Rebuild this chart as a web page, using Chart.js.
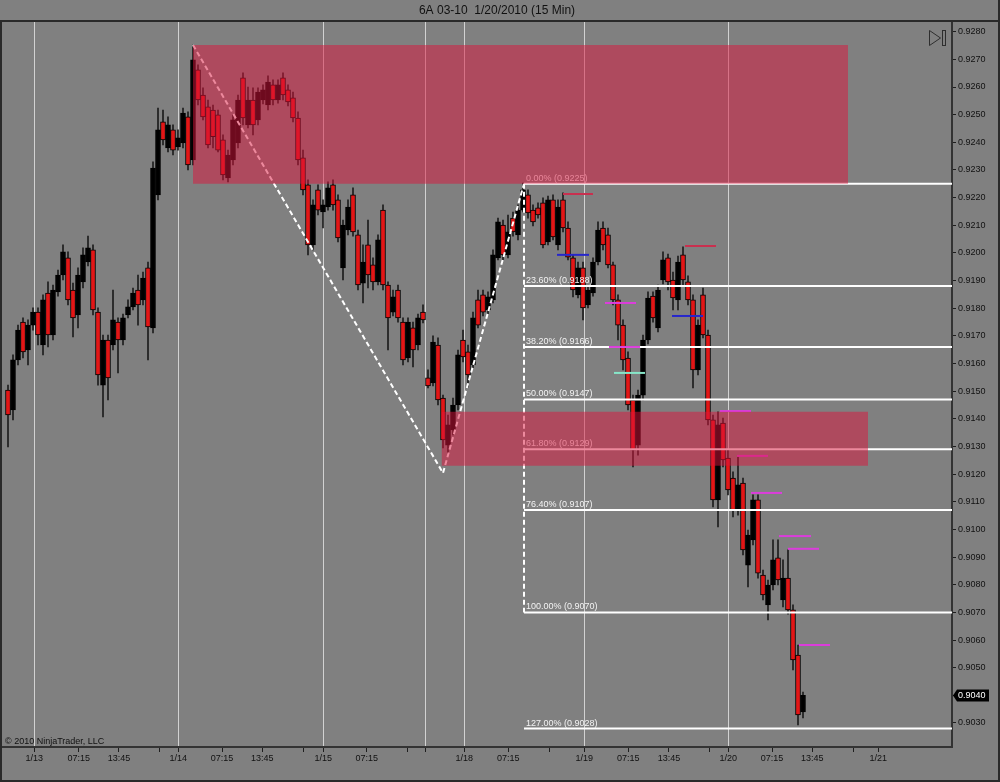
<!DOCTYPE html>
<html><head><meta charset="utf-8">
<script src="https://cdn.jsdelivr.net/npm/chart.js@4.4.1/dist/chart.umd.min.js"></script>
<style>html,body{margin:0;padding:0;background:#808080;overflow:hidden}canvas{display:block}</style>
</head><body>
<canvas id="c" width="1000" height="782"></canvas>
<script>
// ---- DATA ----
const chartTitle = '6A 03-10  1/20/2010 (15 Min)';
const candleOpen = [
0.91504,0.91432,0.91613,0.91750,0.91649,0.91739,0.91786,0.91667,0.91855,0.91703,
0.91859,0.91920,0.91982,0.91866,0.91776,0.91895,0.91967,0.92011,0.91786,0.91522,
0.91685,0.91667,0.91750,0.91685,0.91776,0.91805,0.91866,0.91830,0.91946,0.91729,
0.92210,0.92474,0.92380,0.92445,0.92383,0.92398,0.92492,0.92336,0.92662,0.92571,
0.92528,0.92517,0.92499,0.92409,0.92271,0.92336,0.92398,0.92633,0.92463,0.92553,
0.92481,0.92553,0.92535,0.92608,0.92553,0.92633,0.92590,0.92561,0.92488,0.92344,
0.92246,0.92029,0.92228,0.92148,0.92166,0.92246,0.92192,0.91946,0.92083,0.92210,
0.92065,0.91891,0.92029,0.91957,0.91895,0.92155,0.91884,0.91786,0.91866,0.91750,
0.91620,0.91729,0.91667,0.91786,0.91548,0.91530,0.91667,0.91475,0.91305,0.91360,
0.91450,0.91685,0.91642,0.91595,0.91830,0.91848,0.91794,0.91830,0.91982,0.92101,
0.91993,0.92126,0.92065,0.92155,0.92210,0.92155,0.92163,0.92181,0.92040,0.92192,
0.92029,0.92192,0.92090,0.91982,0.91848,0.91946,0.91812,0.91855,0.91967,0.92090,
0.92065,0.91957,0.91830,0.91739,0.91620,0.91468,0.91305,0.91486,0.91685,0.91844,
0.91729,0.91902,0.91982,0.91902,0.91830,0.91993,0.91895,0.91830,0.91577,0.91848,
0.91703,0.91396,0.91107,0.91385,0.91258,0.91186,0.91070,0.91168,0.90871,0.90962,
0.91107,0.90835,0.90727,0.90799,0.90897,0.90745,0.90824,0.90709,0.90546,0.90340];
const candleHigh = [
0.91522,0.91631,0.91739,0.91765,0.91758,0.91801,0.91801,0.91848,0.91895,0.91884,
0.91938,0.92029,0.92004,0.91891,0.91946,0.92018,0.92061,0.92029,0.91801,0.91703,
0.91703,0.91866,0.91765,0.91779,0.91830,0.91873,0.91920,0.91931,0.91967,0.92329,
0.92524,0.92517,0.92492,0.92463,0.92445,0.92524,0.92510,0.92752,0.92680,0.92597,
0.92553,0.92535,0.92517,0.92427,0.92372,0.92499,0.92571,0.92651,0.92600,0.92597,
0.92597,0.92608,0.92640,0.92626,0.92626,0.92651,0.92608,0.92582,0.92510,0.92372,
0.92264,0.92192,0.92246,0.92192,0.92257,0.92264,0.92210,0.92119,0.92192,0.92235,
0.92083,0.92029,0.92119,0.91982,0.92065,0.92174,0.91895,0.91866,0.91884,0.91765,
0.91765,0.91750,0.91779,0.91812,0.91577,0.91700,0.91693,0.91486,0.91414,0.91475,
0.91649,0.91721,0.91667,0.91786,0.91866,0.91866,0.91859,0.92011,0.92126,0.92119,
0.92137,0.92148,0.92174,0.92253,0.92228,0.92174,0.92181,0.92199,0.92206,0.92210,
0.92192,0.92217,0.92112,0.91993,0.91967,0.91967,0.91880,0.91982,0.92112,0.92112,
0.92090,0.91967,0.91848,0.91758,0.91642,0.91486,0.91504,0.91703,0.91859,0.91859,
0.91884,0.92004,0.91996,0.91931,0.91989,0.92022,0.91917,0.91848,0.91758,0.91873,
0.91721,0.91414,0.91425,0.91403,0.91287,0.91208,0.91262,0.91186,0.90998,0.91125,
0.91125,0.90853,0.90817,0.90962,0.90962,0.90890,0.90926,0.90727,0.90582,0.90412];
const candleLow = [
0.91298,0.91396,0.91595,0.91620,0.91595,0.91721,0.91667,0.91631,0.91660,0.91685,
0.91844,0.91902,0.91812,0.91696,0.91729,0.91873,0.91953,0.91776,0.91522,0.91407,
0.91468,0.91649,0.91566,0.91667,0.91765,0.91794,0.91739,0.91812,0.91613,0.91711,
0.92192,0.92391,0.92365,0.92354,0.92372,0.92380,0.92300,0.92318,0.92535,0.92481,
0.92380,0.92380,0.92365,0.92264,0.92257,0.92318,0.92380,0.92463,0.92452,0.92427,
0.92463,0.92539,0.92517,0.92535,0.92542,0.92553,0.92532,0.92474,0.92318,0.92210,
0.91993,0.92011,0.92137,0.92090,0.92155,0.92155,0.92040,0.91902,0.92065,0.92061,
0.91866,0.91819,0.91873,0.91866,0.91884,0.91866,0.91649,0.91772,0.91750,0.91595,
0.91606,0.91588,0.91649,0.91747,0.91512,0.91519,0.91450,0.91295,0.91276,0.91342,
0.91432,0.91606,0.91515,0.91584,0.91729,0.91772,0.91779,0.91819,0.91975,0.91975,
0.91982,0.92061,0.92047,0.92148,0.92126,0.92098,0.92126,0.92018,0.92029,0.92047,
0.92011,0.92076,0.91975,0.91841,0.91837,0.91758,0.91801,0.91844,0.91957,0.92011,
0.91946,0.91812,0.91685,0.91577,0.91432,0.91226,0.91269,0.91468,0.91671,0.91750,
0.91714,0.91888,0.91866,0.91794,0.91794,0.91884,0.91812,0.91512,0.91559,0.91693,
0.91378,0.91081,0.91009,0.91226,0.91125,0.91045,0.91052,0.90908,0.90792,0.90944,
0.90824,0.90745,0.90673,0.90781,0.90799,0.90720,0.90694,0.90492,0.90293,0.90318];
const candleClose = [
0.91414,0.91613,0.91721,0.91642,0.91739,0.91786,0.91703,0.91830,0.91703,0.91866,
0.91920,0.92004,0.91830,0.91765,0.91920,0.91993,0.92018,0.91794,0.91559,0.91685,
0.91548,0.91758,0.91685,0.91765,0.91805,0.91855,0.91812,0.91909,0.91732,0.92307,
0.92445,0.92409,0.92463,0.92372,0.92416,0.92506,0.92318,0.92698,0.92553,0.92492,
0.92391,0.92420,0.92372,0.92282,0.92354,0.92481,0.92553,0.92488,0.92553,0.92463,
0.92582,0.92590,0.92618,0.92553,0.92608,0.92571,0.92546,0.92488,0.92336,0.92228,
0.92029,0.92174,0.92155,0.92174,0.92235,0.92174,0.92054,0.92101,0.92166,0.92076,
0.91884,0.91967,0.91920,0.91895,0.92047,0.91884,0.91765,0.91841,0.91765,0.91613,
0.91750,0.91649,0.91765,0.91758,0.91519,0.91678,0.91468,0.91324,0.91378,0.91450,
0.91631,0.91624,0.91559,0.91765,0.91739,0.91786,0.91841,0.91993,0.92112,0.91993,
0.92076,0.92076,0.92155,0.92228,0.92145,0.92112,0.92137,0.92029,0.92192,0.92058,
0.92166,0.92090,0.91985,0.91866,0.91946,0.91801,0.91866,0.91967,0.92083,0.92029,
0.91957,0.91830,0.91739,0.91613,0.91450,0.91287,0.91486,0.91685,0.91837,0.91765,
0.91866,0.91975,0.91895,0.91837,0.91967,0.91902,0.91830,0.91577,0.91739,0.91703,
0.91396,0.91107,0.91378,0.91251,0.91143,0.91070,0.91161,0.90926,0.90980,0.91107,
0.90842,0.90763,0.90799,0.90890,0.90817,0.90824,0.90709,0.90528,0.90329,0.90400];

// x axis (bar-slot units) tick positions and labels
const xTickPos = [5.26,14.14,22.2,30.26,34.06,42.8,50.86,59.06,63.06,71.74,79.86,83.4,91.26,100.06,108.2,115.26,124.06,132.2,140.26,144.06,152.8,160.86,169.06,174.06];
const xTickLabels = ['1/13','07:15','13:45','','1/14','07:15','13:45','','1/15','07:15','','','1/18','07:15','','1/19','07:15','13:45','','1/20','07:15','13:45','','1/21'];
const sessionLines = [5.26,34.06,63.06,83.4,91.26,115.26,144.06];
const yTickValues = [0.9030,0.9040,0.9050,0.9060,0.9070,0.9080,0.9090,0.9100,0.9110,0.9120,0.9130,0.9140,0.9150,0.9160,0.9170,0.9180,0.9190,0.9200,0.9210,0.9220,0.9230,0.9240,0.9250,0.9260,0.9270,0.9280];

// Fibonacci retracement
const fibLevels = [0.9225,0.9188,0.9166,0.9147,0.9129,0.9107,0.9070,0.9028];
const fibPercents = ['0.00%','23.60%','38.20%','50.00%','61.80%','76.40%','100.00%','127.00%'];
const fibAnchorX = 103.2;
const fibAnchorTop = 0.9225;
const fibAnchorBottom = 0.9070;
// swing zig-zag
const swingX = [37, 87, 103.2];
const swingY = [0.92752, 0.91204, 0.9225];
// zones
const zoneTop = [0.92752, 0.91426];
const zoneBottom = [0.9225, 0.91230];
const zoneStart = [37, 86.7];
const zoneEnd = [168, 172];
// short level markers
const markerPrice = [0.92213,0.91993,0.92025,0.91819,0.91772,0.91660,0.91566,0.91428,0.91266,0.91132,0.90976,0.90930,0.90582];
const markerStart = [111,109.8,135.4,119.4,132.8,120.2,121.2,142.4,145.8,148.6,154.2,156,158.2];
const markerEnd   = [117,116.2,141.6,125.6,139,126.4,127.4,148.6,152,154.8,160.6,162.2,164.4];
const markerKind  = ['high','mid','high','stop','mid','stop','alt','stop','stop','stop','stop','stop','stop'];

const lastPrice = candleClose[candleClose.length - 1];

// ---- STYLE ----
const FONT = '"Liberation Sans", Arial, Helvetica, sans-serif';
const markerColors = {high:'#c9304f', mid:'#2626cc', stop:'#dc3cdc', alt:'#86e6c8'};
const X_MIN = -1.2, X_MAX = 188.8, Y_MIN = 0.902132, Y_MAX = 0.928351;

const datasets = [];
datasets.push({
  type:'bar', data: candleLow.map((l,i)=>({x:i, y:[l, candleHigh[i]]})),
  backgroundColor:'#1c1c1c', borderWidth:0, barThickness:1, grouped:false, order:20
});
datasets.push({
  type:'bar', data: candleOpen.map((o,i)=>({x:i, y:[o, candleClose[i]]})),
  backgroundColor: candleOpen.map((o,i)=> candleClose[i] >= o ? '#000000' : '#e31616'),
  borderColor:'#000000', borderWidth:1, borderSkipped:false, barThickness:5, grouped:false, order:19
});
fibLevels.forEach(v => datasets.push({
  type:'line', data:[{x:fibAnchorX,y:v},{x:X_MAX,y:v}],
  borderColor:'#ffffff', borderWidth:2, pointRadius:0, fill:false, order:15
}));
markerPrice.forEach((p,i) => datasets.push({
  type:'line', data:[{x:markerStart[i],y:p},{x:markerEnd[i],y:p}],
  borderColor: markerColors[markerKind[i]], borderWidth:2, pointRadius:0, fill:false, order:14
}));
datasets.push({
  type:'line', data: swingX.map((x,i)=>({x, y:swingY[i]})),
  borderColor:'#ffffff', borderWidth:2, borderDash:[5,3], pointRadius:0, fill:false, order:13
});
datasets.push({
  type:'line', fibAnchor:true, data:[{x:fibAnchorX,y:fibAnchorTop},{x:fibAnchorX,y:fibAnchorBottom}],
  borderColor:'#ffffff', borderWidth:2, borderDash:[5,3], pointRadius:0, fill:false, order:12
});
zoneTop.forEach((t,i) => datasets.push({
  type:'line', data:[{x:zoneStart[i],y:t},{x:zoneEnd[i],y:t}],
  borderColor:'rgba(0,0,0,0)', borderWidth:0, pointRadius:0,
  fill:{value: zoneBottom[i]}, backgroundColor:'rgba(220,20,60,0.5)', order:10
}));

const decor = {
  id:'decor',
  beforeDraw(chart){
    const c = chart.ctx; c.save();
    c.fillStyle = '#808080'; c.fillRect(0,0,chart.width,chart.height);
    c.restore();
  },
  afterDatasetDraw(chart, args){
    const ds = chart.data.datasets[args.index];
    if (!ds.fibAnchor) return;
    const c = chart.ctx, xs = chart.scales.x, ys = chart.scales.y;
    c.save();
    c.font = '9px ' + FONT; c.fillStyle = '#f2f2f2';
    c.textAlign = 'left'; c.textBaseline = 'bottom';
    fibLevels.forEach((v,i) => {
      c.fillText(fibPercents[i] + ' (' + v.toFixed(4) + ')', xs.getPixelForValue(fibAnchorX) + 2, ys.getPixelForValue(v) - 1);
    });
    c.restore();
  },
  afterDraw(chart){
    const c = chart.ctx, a = chart.chartArea, ys = chart.scales.y;
    c.save();
    // frame
    c.fillStyle = '#2a2a2a';
    c.fillRect(0, 20, chart.width, 2);
    c.fillRect(0, 20, 2, chart.height - 20);
    c.fillRect(chart.width - 2, 0, 2, chart.height);
    c.fillRect(0, chart.height - 2, chart.width, 2);
    // title
    c.font = '12px ' + FONT; c.fillStyle = '#111'; c.textAlign = 'center'; c.textBaseline = 'middle';
    c.fillText(chartTitle, 497, 11);
    // copyright
    c.font = '9px ' + FONT; c.textAlign = 'left';
    c.fillText('\u00A9 2010 NinjaTrader, LLC', 5, a.bottom - 5);
    // icon
    c.strokeStyle = '#2e2e2e'; c.lineWidth = 1;
    c.beginPath(); c.moveTo(929.5, 30.5); c.lineTo(940.5, 38); c.lineTo(929.5, 45.5); c.closePath(); c.stroke();
    c.strokeRect(942.5, 30.5, 3, 15);
    // last price box
    const y = Math.round(ys.getPixelForValue(lastPrice)) + 0.5;
    const x0 = a.right + 1;
    c.fillStyle = '#000';
    c.beginPath(); c.moveTo(x0, y); c.lineTo(x0 + 4, y - 6); c.lineTo(x0 + 36, y - 6); c.lineTo(x0 + 36, y + 6); c.lineTo(x0 + 4, y + 6); c.closePath(); c.fill();
    c.fillStyle = '#fff'; c.font = '9px ' + FONT; c.textBaseline = 'middle';
    c.fillText(lastPrice.toFixed(4), x0 + 5, y + 0.5);
    c.restore();
  }
};

new Chart(document.getElementById('c'), {
  type:'bar',
  data:{ datasets },
  options:{
    responsive:false, animation:false, devicePixelRatio:1,
    layout:{ padding:{ top:22, left:2, right:0, bottom:0 } },
    plugins:{ legend:{display:false}, tooltip:{enabled:false}, title:{display:false} },
    events:[],
    scales:{
      x:{
        type:'linear', min:X_MIN, max:X_MAX, offset:false,
        afterBuildTicks(scale){ scale.ticks = xTickPos.map(v => ({value:v})); },
        afterFit(scale){ scale.height = 35; },
        grid:{
          offset:false, drawOnChartArea:true, drawTicks:true, tickLength:5, tickColor:'#1e1e1e', lineWidth:1,
          color:(ctx) => (ctx.tick && sessionLines.includes(ctx.tick.value)) ? '#d2d2d2' : 'rgba(0,0,0,0)'
        },
        border:{ display:true, color:'#333333', width:2 },
        ticks:{
          autoSkip:false, maxRotation:0, minRotation:0, padding:1, color:'#111',
          font:{ family:FONT, size:9 },
          callback:(v, i) => xTickLabels[i]
        }
      },
      y:{
        type:'linear', position:'right', min:Y_MIN, max:Y_MAX,
        afterBuildTicks(scale){ scale.ticks = yTickValues.map(v => ({value:v})); },
        afterFit(scale){ scale.width = 48; },
        grid:{ drawOnChartArea:false, drawTicks:true, tickLength:4, tickColor:'#1e1e1e' },
        border:{ display:true, color:'#333333', width:2 },
        ticks:{ padding:2, color:'#111', font:{ family:FONT, size:9 }, callback:(v) => Number(v).toFixed(4) }
      }
    }
  },
  plugins:[decor]
});
</script>
</body></html>
